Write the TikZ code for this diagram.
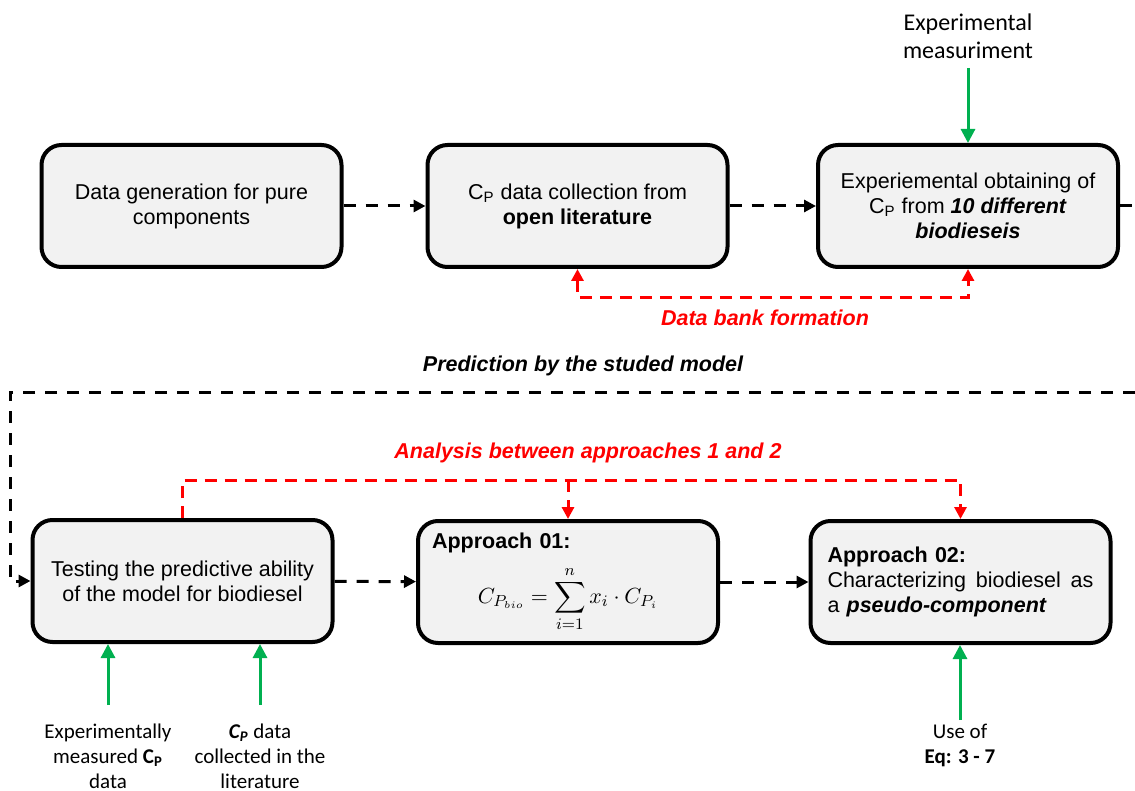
\documentclass[tikz,border=0pt]{standalone}
\usepackage{amsmath}
\usepackage[no-math]{fontspec}
\setmainfont{Liberation Sans}
\newfontfamily\calfont{Carlito}
\usetikzlibrary{arrows.meta,positioning,calc}
\definecolor{boxgray}{HTML}{F2F2F2}
\definecolor{ingreen}{HTML}{00B050}
\tikzset{box/.style={draw=black,line width=2pt,rounded corners=10pt,fill=boxgray,align=center,minimum width=150pt,minimum height=61pt,inner sep=6pt,font=\fontsize{10.75}{12.5}\selectfont},flow/.style={-{Triangle[length=6pt,width=6pt]},line width=1.5pt,dash pattern=on 6pt off 5pt},bank/.style={-{Triangle[length=6pt,width=6pt]},red,line width=1.5pt,dash pattern=on 6pt off 4pt},inp/.style={-{Triangle[length=7pt,width=7pt]},ingreen,line width=1.5pt},lab/.style={font=\calfont\fontsize{10.5}{12.5}\selectfont,align=center,inner sep=1pt},ttl/.style={font=\bfseries\itshape\fontsize{10.75}{12.5}\selectfont}}

\begin{document}
\begin{tikzpicture}[x=0.5pt,y=-0.5pt]
\useasboundingbox (0,0) rectangle (1135,791);
\node[box] (gen) at (191.5,206) {Data generation for pure\\components};
\node[box] (lit) at (577.5,206) {C\textsubscript{P} data collection from\\\textbf{open literature}};
\node[box] (exp) at (968,206) {Experiemental obtaining of\\C\textsubscript{P} from \textbf{\textit{10 different}}\\\textbf{\textit{biodieseis}}};
\node[box] (test) at (182.5,581) {Testing the predictive ability\\of the model for biodiesel};
\node[box,text width=136pt,align=left,inner ysep=3pt] (ap1) at (568,582) {\textbf{Approach 01:}\par\vspace{6pt}\centering$\displaystyle C_{P_{bio}}=\sum_{i=1}^{n}x_i\cdot C_{P_i}$\par};
\node[box,text width=133pt,align=left] (ap2) at (960.5,582) {\textbf{Approach 02:}\\Characterizing\hfill biodiesel\hfill as\\a \textbf{\textit{pseudo-component}}};
\node[lab,font=\calfont\fontsize{12}{14}\selectfont] (meas) at (968,36) {Experimental\\measuriment};
\node[lab] (expcp) at (108,756) {Experimentally\\measured \textbf{C\textsubscript{P}}\\data};
\node[lab] (litcp) at (260,756) {\textbf{\textit{C\textsubscript{P}}} data\\collected in the\\literature};
\node[lab] (eqs) at (960,745) {Use of\\\textbf{Eq: 3 - 7}};
\node[ttl] (pred) at (583,366) {Prediction by the studed model};
\node[ttl,red] (dbf) at (765,318) {Data bank formation};
\node[ttl,red] (ana) at (588,453) {Analysis between approaches 1 and 2};
\coordinate (re) at (1135,206);
\coordinate (rt) at (1135,392);
\coordinate (lt) at (10,392);
\coordinate (db) at (765,298);
\coordinate (an) at (570,480);
\coordinate (m0) at (968,68);
\coordinate (e1) at (108,705);
\coordinate (e2) at (260,705);
\coordinate (e3) at (960,720);
\draw[flow] (gen) -- (lit);
\draw[flow] (lit) -- (exp);
\draw[flow,-] (exp) -- (re);
\draw[flow] (rt) -- (lt) -- (lt |- test.west) -- (test.west);
\draw[flow] (test) -- (ap1);
\draw[flow] (ap1) -- (ap2);
\draw[bank,{Triangle[length=6pt,width=6pt]}-{Triangle[length=6pt,width=6pt]}] (lit.south) -- (lit.south |- db) -- (exp.south |- db) -- (exp.south);
\draw[bank] (test.north) -- (test.north |- an) -- (ap2.north |- an) -- (ap2.north);
\draw[bank] (ap1.north |- an) -- (ap1.north);
\draw[inp] (m0) -- (exp);
\draw[inp] (e1) -- (e1 |- test.south);
\draw[inp] (e2) -- (e2 |- test.south);
\draw[inp] (e3) -- (e3 |- ap2.south);
\end{tikzpicture}
\end{document}
